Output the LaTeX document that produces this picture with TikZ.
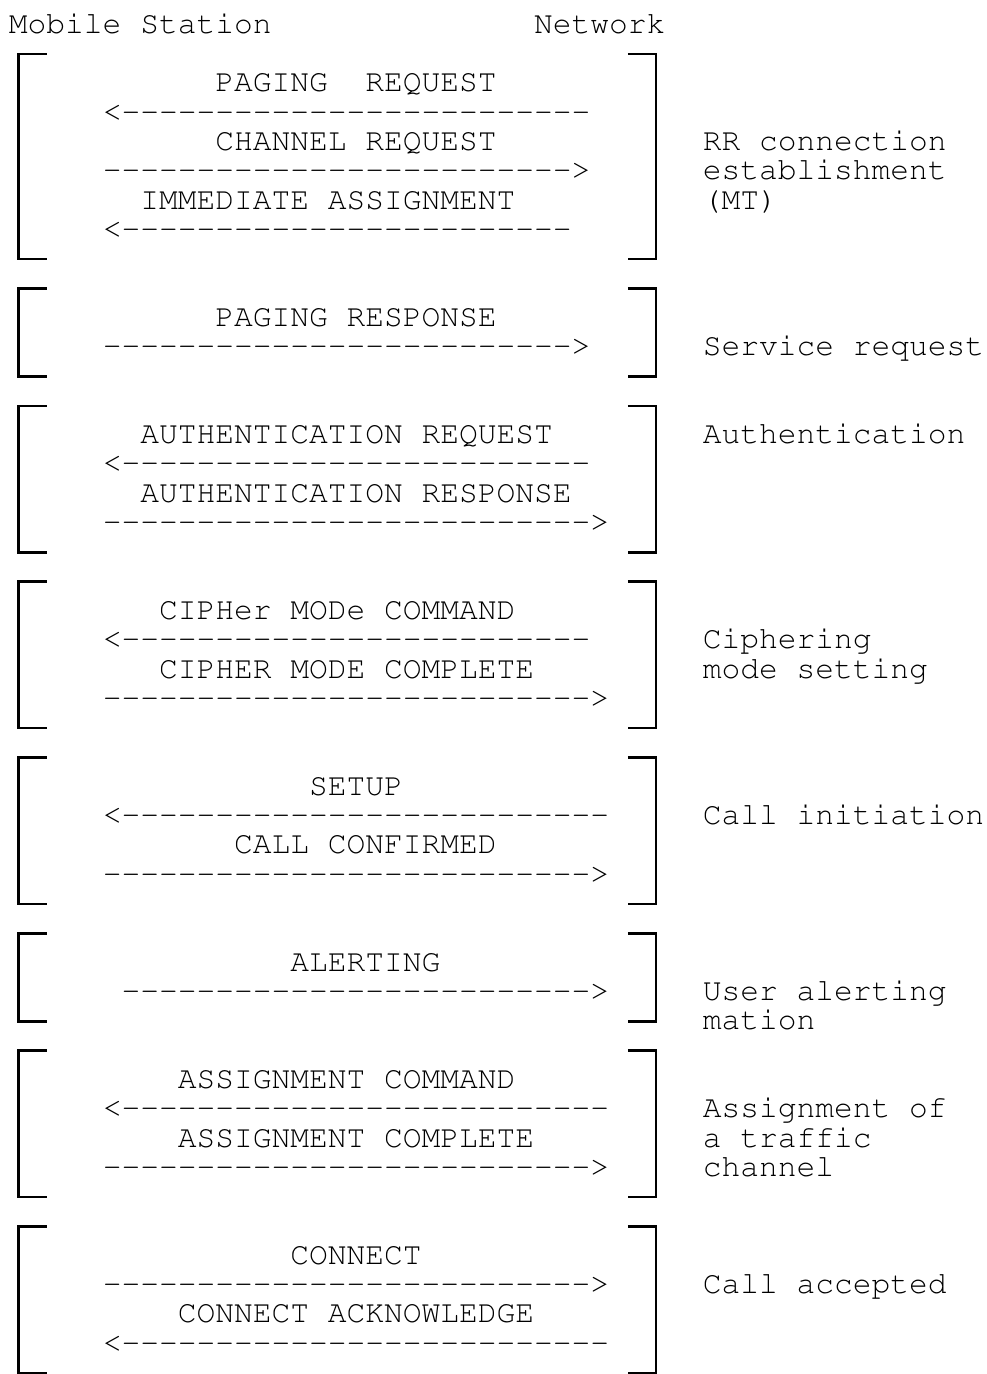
\documentclass[tikz,border=0pt]{standalone}
\usepackage[T1]{fontenc}
\usepackage{courier}
% grid helpers (units: pixels of the reference)
\newcommand\colx[1]{9+#1*18.75}
\newcommand\rowc[1]{24.8+#1*29.31}
\newcommand\rowb[1]{33.3+#1*29.31}
\newcommand\dashrun[1]{\ifnum#1>0 -{}\expandafter\dashrun\expandafter{\the\numexpr#1-1\relax}\fi}
\begin{document}
\begin{tikzpicture}[x=0.5pt,y=-0.5pt,
  txt/.style={anchor=base west,inner sep=0pt,outer sep=0pt,
    font=\ttfamily\fontsize{15.625pt}{16pt}\selectfont},
  brk/.style={line width=1.2pt,line cap=butt,line join=miter}]
\fill[white] (0,0) rectangle (986,1374);
\useasboundingbox (0,0) rectangle (986,1374);

% header
\node[txt] (ms) at ({\colx{0}},{\rowb{0}}) {Mobile Station};
\node[txt] (nw) at ({\colx{28}},{\rowb{0}}) {Network};

% brackets
\foreach \ta/\tb in {1/8,9/12,13/18,19/24,25/30,31/34,35/40,41/46}{
  \draw[brk] ({\colx{2}},{\rowc{\ta}}) -- ({\colx{0}+9.375},{\rowc{\ta}})
     -- ({\colx{0}+9.375},{\rowc{\tb}}) -- ({\colx{2}},{\rowc{\tb}});
  \draw[brk] ({\colx{33}},{\rowc{\ta}}) -- ({\colx{34}+9.375},{\rowc{\ta}})
     -- ({\colx{34}+9.375},{\rowc{\tb}}) -- ({\colx{33}},{\rowc{\tb}});
}

% block 1: RR connection establishment
\node[txt] (m1) at ({\colx{11}},{\rowb{2}}) {PAGING\ \ REQUEST};
\node[txt] (a1) at ({\colx{5}},{\rowb{3}}) {<\dashrun{25}};
\node[txt] (m2) at ({\colx{11}},{\rowb{4}}) {CHANNEL REQUEST};
\node[txt] (a2) at ({\colx{5}},{\rowb{5}}) {\dashrun{25}>};
\node[txt] (m3) at ({\colx{7}},{\rowb{6}}) {IMMEDIATE ASSIGNMENT};
\node[txt] (a3) at ({\colx{5}},{\rowb{7}}) {<\dashrun{24}};
\node[txt] (l1a) at ({\colx{37}},{\rowb{4}}) {RR connection};
\node[txt] (l1b) at ({\colx{37}},{\rowb{5}}) {establishment};
\node[txt] (l1c) at ({\colx{37}},{\rowb{6}}) {(MT)};

% block 2: Service request
\node[txt] (m4) at ({\colx{11}},{\rowb{10}}) {PAGING RESPONSE};
\node[txt] (a4) at ({\colx{5}},{\rowb{11}}) {\dashrun{25}>};
\node[txt] (l2) at ({\colx{37}},{\rowb{11}}) {Service request};

% block 3: Authentication
\node[txt] (m5) at ({\colx{7}},{\rowb{14}}) {AUTHENTICATION REQUEST};
\node[txt] (a5) at ({\colx{5}},{\rowb{15}}) {<\dashrun{25}};
\node[txt] (m6) at ({\colx{7}},{\rowb{16}}) {AUTHENTICATION RESPONSE};
\node[txt] (a6) at ({\colx{5}},{\rowb{17}}) {\dashrun{26}>};
\node[txt] (l3) at ({\colx{37}},{\rowb{14}}) {Authentication};

% block 4: Ciphering mode setting
\node[txt] (m7) at ({\colx{8}},{\rowb{20}}) {CIPHer MODe COMMAND};
\node[txt] (a7) at ({\colx{5}},{\rowb{21}}) {<\dashrun{25}};
\node[txt] (m8) at ({\colx{8}},{\rowb{22}}) {CIPHER MODE COMPLETE};
\node[txt] (a8) at ({\colx{5}},{\rowb{23}}) {\dashrun{26}>};
\node[txt] (l4a) at ({\colx{37}},{\rowb{21}}) {Ciphering};
\node[txt] (l4b) at ({\colx{37}},{\rowb{22}}) {mode setting};

% block 5: Call initiation
\node[txt] (m9) at ({\colx{16}},{\rowb{26}}) {SETUP};
\node[txt] (a9) at ({\colx{5}},{\rowb{27}}) {<\dashrun{26}};
\node[txt] (m10) at ({\colx{12}},{\rowb{28}}) {CALL CONFIRMED};
\node[txt] (a10) at ({\colx{5}},{\rowb{29}}) {\dashrun{26}>};
\node[txt] (l5) at ({\colx{37}},{\rowb{27}}) {Call initiation};

% block 6: User alerting
\node[txt] (m11) at ({\colx{15}},{\rowb{32}}) {ALERTING};
\node[txt] (a11) at ({\colx{6}},{\rowb{33}}) {\dashrun{25}>};
\node[txt] (l6a) at ({\colx{37}},{\rowb{33}}) {User alerting};
\node[txt] (l6b) at ({\colx{37}},{\rowb{34}}) {mation};

% block 7: Assignment of a traffic channel
\node[txt] (m12) at ({\colx{9}},{\rowb{36}}) {ASSIGNMENT COMMAND};
\node[txt] (a12) at ({\colx{5}},{\rowb{37}}) {<\dashrun{26}};
\node[txt] (m13) at ({\colx{9}},{\rowb{38}}) {ASSIGNMENT COMPLETE};
\node[txt] (a13) at ({\colx{5}},{\rowb{39}}) {\dashrun{26}>};
\node[txt] (l7a) at ({\colx{37}},{\rowb{37}}) {Assignment of};
\node[txt] (l7b) at ({\colx{37}},{\rowb{38}}) {a traffic};
\node[txt] (l7c) at ({\colx{37}},{\rowb{39}}) {channel};

% block 8: Call accepted
\node[txt] (m14) at ({\colx{15}},{\rowb{42}}) {CONNECT};
\node[txt] (a14) at ({\colx{5}},{\rowb{43}}) {\dashrun{26}>};
\node[txt] (m15) at ({\colx{9}},{\rowb{44}}) {CONNECT ACKNOWLEDGE};
\node[txt] (a15) at ({\colx{5}},{\rowb{45}}) {<\dashrun{26}};
\node[txt] (l8) at ({\colx{37}},{\rowb{43}}) {Call accepted};
\end{tikzpicture}
\end{document}
